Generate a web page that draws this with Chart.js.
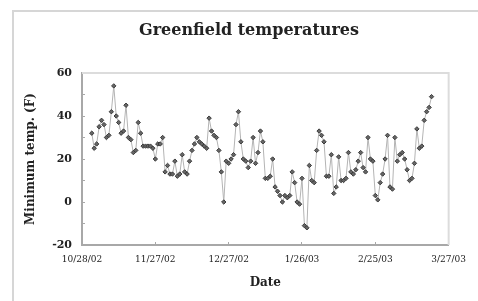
<!DOCTYPE html>
<html><head><meta charset="utf-8">
<script src="https://cdn.jsdelivr.net/npm/chart.js@4"></script>
<style>
html,body{margin:0;padding:0;background:#fff;}
#wrap{position:relative;width:478px;height:301px;overflow:hidden;}
#frame{position:absolute;left:12px;top:10px;width:480px;height:300px;border-left:2px solid #d6d6d6;border-top:2px solid #d6d6d6;}
canvas{position:absolute;left:0;top:0;}
</style></head><body>
<div id="wrap"><div id="frame"></div><canvas id="c" width="478" height="301"></canvas></div>
<script>
const chartTitle = 'Greenfield temperatures';
const xTitle = 'Date';
const yTitle = 'Minimum temp. (F)';
const dateTickLabels = ['10/28/02','11/27/02','12/27/02','1/26/03','2/25/03','3/27/03'];
const firstDayOffset = 4; // first reading: 11/1/02 (days after 10/28/02)
const minTemps = [
  32, 25, 27, 35, 38, 36, 30, 31, 42, 54,
  40, 37, 32, 33, 45, 30, 29, 23, 24, 37,
  32, 26, 26, 26, 26, 25, 20, 27, 27, 30,
  14, 17, 13, 13, 19, 12, 13, 22, 14, 13,
  19, 24, 27, 30, 28, 27, 26, 25, 39, 33,
  31, 30, 24, 14, 0, 19, 18, 20, 22, 36,
  42, 28, 20, 19, 16, 19, 30, 18, 23, 33,
  28, 11, 11, 12, 20, 7, 5, 3, 0, 3,
  2, 3, 14, 9, 0, -1, 11, -11, -12, 17,
  10, 9, 24, 33, 31, 28, 12, 12, 22, 4,
  7, 21, 10, 10, 11, 23, 14, 13, 15, 19,
  23, 16, 14, 30, 20, 19, 3, 1, 9, 13,
  20, 31, 7, 6, 30, 19, 22, 23, 20, 15,
  10, 11, 18, 34, 25, 26, 38, 42, 44, 49
];
const points = minTemps.map((v, i) => ({x: firstDayOffset + i, y: v}));

const serif = "'DejaVu Serif', serif";

const plotFrame = {
  id: 'plotFrame',
  beforeDatasetsDraw(chart) {
    const {ctx, chartArea: a} = chart;
    ctx.save();
    ctx.strokeStyle = '#dcdcdc';
    ctx.lineWidth = 2;
    ctx.beginPath();
    ctx.moveTo(a.left, a.top);
    ctx.lineTo(a.right, a.top);
    ctx.lineTo(a.right, a.bottom);
    ctx.stroke();
    ctx.restore();
  },
  afterDraw(chart) {
    const ctx = chart.ctx;
    ctx.save();
    ctx.fillStyle = '#222';
    ctx.font = "bold 16px 'DejaVu Serif', serif";
    ctx.textAlign = 'center';
    ctx.textBaseline = 'middle';
    ctx.fillText(chartTitle, 249, 31);
    ctx.restore();
  }
};

new Chart(document.getElementById('c'), {
  type: 'line',
  data: {
    datasets: [{
      data: points,
      borderColor: '#b4b4b4',
      borderWidth: 1,
      pointStyle: 'rectRot',
      pointRadius: 2.2,
      pointBackgroundColor: '#666',
      pointBorderColor: '#3a3a3a',
      pointBorderWidth: 1,
      tension: 0,
      fill: false
    }]
  },
  options: {
    responsive: false,
    animation: false,
    devicePixelRatio: 1,
    layout: {padding: {left: 0, right: 22, top: 73, bottom: 0}},
    plugins: {
      legend: {display: false},
      tooltip: {enabled: false},
      title: {display: false}
    },
    scales: {
      x: {
        type: 'linear',
        min: 0, max: 150,
        afterFit(s) { s.height = 56; },
        border: {display: true, color: '#a8a8a8', width: 2},
        grid: {drawOnChartArea: false, drawTicks: true, tickLength: -3, color: '#a8a8a8', lineWidth: 1},
        ticks: {
          stepSize: 30,
          padding: 12,
          maxRotation: 0,
          autoSkip: false,
          color: '#222',
          font: {family: serif, size: 9},
          callback: (v) => dateTickLabels[Math.round(v / 30)]
        },
        title: {display: true, text: xTitle, color: '#222',
          font: {family: serif, size: 12, weight: 'bold', lineHeight: 1.2},
          padding: {top: 0, bottom: 11}}
      },
      y: {
        min: -20, max: 60,
        afterFit(s) { s.width = 82; },
        border: {display: true, color: '#a8a8a8', width: 2},
        grid: {drawOnChartArea: false, drawTicks: true, tickLength: -3, color: '#a8a8a8', lineWidth: 1},
        ticks: {
          stepSize: 10,
          padding: 13,
          color: '#222',
          font: {family: serif, size: 11, weight: 'bold'},
          callback: (v) => (v % 20 === 0 ? String(v) : '')
        },
        title: {display: true, text: yTitle, color: '#222',
          font: {family: serif, size: 12, weight: 'bold', lineHeight: 1.2},
          padding: {top: 24, bottom: 0}}
      }
    }
  },
  plugins: [plotFrame]
});
</script>
</body></html>
